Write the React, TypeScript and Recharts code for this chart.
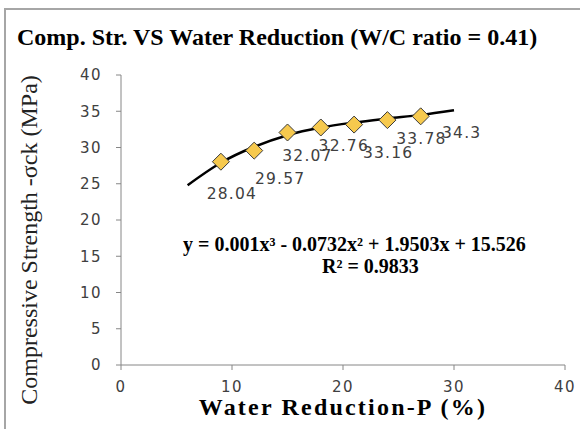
import { ComposedChart, Line, Scatter, XAxis, YAxis, LabelList } from 'recharts';

// measured points
const waterReduction = [9, 12, 15, 18, 21, 24, 27];
const compStrength = [28.04, 29.57, 32.07, 32.76, 33.16, 33.78, 34.3];

// polynomial trend line
const trendX = [6, 9, 12, 15, 18, 21, 24, 27, 30];
const trendY = [24.8, 27.9, 30.1, 31.7, 32.75, 33.45, 34.0, 34.5, 35.15];

const xTicks = [0, 10, 20, 30, 40];
const yTicks = [0, 5, 10, 15, 20, 25, 30, 35, 40];

// hand-placed label offsets (px from the marker centre), as in the original
const labelOffsets = [
  [11, 32],
  [26, 28],
  [20, 24],
  [23, 19],
  [34, 28],
  [34, 19],
  [41, 17]
];

const points = waterReduction.map((x, i) => ({ x, y: compStrength[i] }));
const trend = trendX.map((x, i) => ({ x, y: trendY[i] }));

const serif = '"Liberation Serif", "Times New Roman", serif';
const sans = '"DejaVu Sans", Verdana, sans-serif';

const Diamond = (props: any) => {
  const { cx, cy } = props;
  const r = 8.5;
  return (
    <path
      d={`M${cx},${cy - r} L${cx + r},${cy} L${cx},${cy + r} L${cx - r},${cy} Z`}
      fill="#F6C94E"
      stroke="#3a3a3a"
      strokeWidth={1}
    />
  );
};

const PointLabel = (props: any) => {
  const { x, y, width, height, value, index } = props;
  const cx = x + (width || 0) / 2;
  const cy = y + (height || 0) / 2;
  const [dx, dy] = labelOffsets[index] || [0, 24];
  return (
    <text
      x={cx + dx}
      y={cy + dy}
      textAnchor="middle"
      dominantBaseline="central"
      fontFamily={sans}
      fontSize={15.5}
      letterSpacing={1.2}
      fill="#404040"
    >
      {value}
    </text>
  );
};

const App = () => {
  const tickStyle = { fill: '#404040', fontSize: 15, fontFamily: sans, letterSpacing: 1.5 };
  return (
    <div style={{ position: 'absolute', left: 0, top: 0, width: 587, height: 429, background: '#fff', overflow: 'hidden' }}>
      <div
        style={{
          position: 'absolute',
          left: 4,
          top: 8,
          width: 574,
          height: 430,
          borderTop: '2px solid #a6a6a6',
          borderLeft: '2px solid #a6a6a6'
        }}
      />
      <ComposedChart
        width={587}
        height={429}
        margin={{ top: 75, right: 22, left: 0, bottom: 0 }}
        style={{ position: 'absolute', left: 0, top: 0 }}
      >
        <XAxis
          type="number"
          dataKey="x"
          domain={[0, 40]}
          ticks={xTicks}
          height={64}
          stroke="#868686"
          tickSize={5}
          tickMargin={11}
          tick={tickStyle}
          allowDataOverflow
        />
        <YAxis
          type="number"
          dataKey="y"
          domain={[0, 40]}
          ticks={yTicks}
          width={121}
          stroke="#868686"
          tickSize={5}
          tickMargin={14}
          tick={tickStyle}
          allowDataOverflow
        />
        <Line
          data={trend}
          dataKey="y"
          type="monotone"
          stroke="#000"
          strokeWidth={2.5}
          dot={false}
          activeDot={false}
          isAnimationActive={false}
        />
        <Scatter data={points} dataKey="y" shape={<Diamond />} isAnimationActive={false}>
          <LabelList dataKey="y" content={<PointLabel />} />
        </Scatter>
      </ComposedChart>
      <svg width={587} height={429} style={{ position: 'absolute', left: 0, top: 0, pointerEvents: 'none' }}>
        <text x={17} y={45} fontFamily={serif} fontWeight="bold" fontSize={24} fill="#000">
          Comp. Str. VS Water Reduction (W/C ratio = 0.41)
        </text>
        <text x={343} y={415} textAnchor="middle" fontFamily={serif} fontWeight="bold" fontSize={24} letterSpacing={2.2} fill="#000">
          Water Reduction-P (%)
        </text>
        <text
          x={0}
          y={0}
          transform="translate(29,240) rotate(-90)"
          textAnchor="middle"
          dominantBaseline="central"
          fontFamily={serif}
          fontSize={24}
          fill="#222"
        >
          Compressive Strength -σck (MPa)
        </text>
        <text x={183} y={251} fontFamily={serif} fontWeight="bold" fontSize={20} fill="#000">
          y = 0.001x³ - 0.0732x² + 1.9503x + 15.526
        </text>
        <text x={322} y={273} fontFamily={serif} fontWeight="bold" fontSize={20} fill="#000">
          R² = 0.9833
        </text>
      </svg>
    </div>
  );
};

export default App;
